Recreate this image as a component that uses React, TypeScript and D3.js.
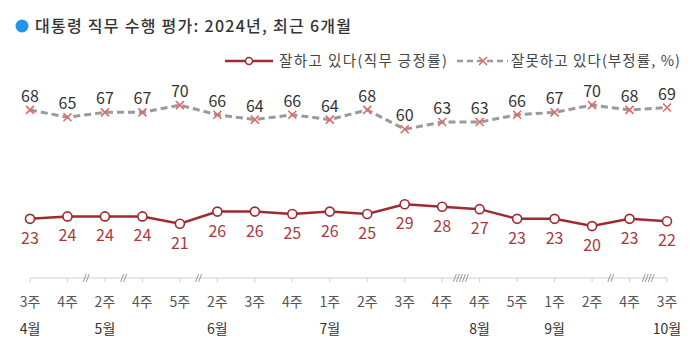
import * as d3 from 'd3';
import React, { useEffect, useRef } from 'react';

const weeks = ['3주', '4주', '2주', '4주', '5주', '2주', '3주', '4주', '1주', '2주', '3주', '4주', '4주', '5주', '1주', '2주', '4주', '3주'];
const months = ['4월', '', '5월', '', '', '6월', '', '', '7월', '', '', '', '8월', '', '9월', '', '', '10월'];
const approve = [23, 24, 24, 24, 21, 26, 26, 25, 26, 25, 29, 28, 27, 23, 23, 20, 23, 22];
const disapprove = [68, 65, 67, 67, 70, 66, 64, 66, 64, 68, 60, 63, 63, 66, 67, 70, 68, 69];
// axis breaks: gap after index, number of slashes
const breaks = [[1, 2], [2, 2], [4, 2], [11, 5], [15, 2], [16, 4]];

const FONT = '"Noto Sans CJK KR", "Noto Sans", sans-serif';
const RED = '#9e2b30';
const GRAY = '#9a9a9a';
const PINK = '#e06a6a';

const App = () => {
	const svgRef = useRef(null);

	useEffect(() => {
		const svg = d3.select(svgRef.current);
		svg.selectAll('*').remove();

		const idx = weeks.map((_, i) => i);
		const x = d3.scalePoint().domain(idx).range([30, 667]);
		const y = d3.scaleLinear().domain([0, 100]).range([274.5, 32.5]);
		const axisY = 278;

		// title
		svg.append('circle').attr('cx', 22).attr('cy', 26).attr('r', 6.5).attr('fill', '#1e96f0');
		svg.append('text')
			.attr('x', 35).attr('y', 32)
			.attr('font-family', FONT).attr('font-size', 16).attr('font-weight', 500)
			.attr('fill', '#333')
			.attr('textLength', 316).attr('lengthAdjust', 'spacing')
			.text('대통령 직무 수행 평가: 2024년, 최근 6개월');

		// legend
		const lg = svg.append('g').attr('font-family', FONT).attr('font-size', 14.5).attr('fill', '#444');
		lg.append('line').attr('x1', 225).attr('x2', 273).attr('y1', 61).attr('y2', 61)
			.attr('stroke', RED).attr('stroke-width', 2.5);
		lg.append('circle').attr('cx', 249).attr('cy', 61).attr('r', 3.5)
			.attr('fill', '#fff').attr('stroke', RED).attr('stroke-width', 1.5);
		lg.append('text').attr('x', 279).attr('y', 66)
			.attr('textLength', 168).attr('lengthAdjust', 'spacing')
			.text('잘하고 있다(직무 긍정률)');
		lg.append('line').attr('x1', 457).attr('x2', 508).attr('y1', 61).attr('y2', 61)
			.attr('stroke', GRAY).attr('stroke-width', 2.5).attr('stroke-dasharray', '6,4');
		lg.append('path').attr('d', 'M479,57L487,65M487,57L479,65').attr('stroke', PINK).attr('stroke-width', 1.6);
		lg.append('text').attr('x', 511).attr('y', 66)
			.attr('textLength', 169).attr('lengthAdjust', 'spacing')
			.text('잘못하고 있다(부정률, %)');

		// x axis
		const ax = svg.append('g');
		ax.append('line').attr('x1', x(0)).attr('x2', x(idx.length - 1)).attr('y1', axisY).attr('y2', axisY)
			.attr('stroke', '#cfcfcf').attr('stroke-width', 1);
		ax.selectAll('.tick').data(idx).join('line')
			.attr('x1', (d) => x(d)).attr('x2', (d) => x(d))
			.attr('y1', axisY).attr('y2', axisY + 4)
			.attr('stroke', '#cfcfcf');
		breaks.forEach(([i, n]) => {
			const cx = (x(i) + x(i + 1)) / 2;
			for (let k = 0; k < n; k++) {
				const sx = cx + (k - (n - 1) / 2) * 3;
				ax.append('line')
					.attr('x1', sx - 1.5).attr('x2', sx + 1.5)
					.attr('y1', axisY + 4).attr('y2', axisY - 4)
					.attr('stroke', '#999').attr('stroke-width', 1);
			}
		});
		ax.selectAll('.wk').data(idx).join('text')
			.attr('x', (d) => x(d)).attr('y', axisY + 29)
			.attr('text-anchor', 'middle')
			.attr('font-family', FONT).attr('font-size', 14).attr('fill', '#555')
			.text((d) => weeks[d]);
		ax.selectAll('.mo').data(idx.filter((i) => months[i])).join('text')
			.attr('x', (d) => x(d)).attr('y', axisY + 56)
			.attr('text-anchor', 'middle')
			.attr('font-family', FONT).attr('font-size', 14).attr('fill', '#333')
			.text((d) => months[d]);

		// disapprove line
		const line = d3.line().x((d, i) => x(i)).y((d) => y(d));
		svg.append('path').datum(disapprove).attr('d', line)
			.attr('fill', 'none').attr('stroke', GRAY).attr('stroke-width', 3)
			.attr('stroke-dasharray', '7,4');
		svg.selectAll('.xm').data(disapprove).join('path')
			.attr('d', (d, i) => {
				const cx = x(i), cy = y(d), s = 4;
				return `M${cx - s},${cy - s}L${cx + s},${cy + s}M${cx + s},${cy - s}L${cx - s},${cy + s}`;
			})
			.attr('stroke', PINK).attr('stroke-width', 1.6);
		svg.selectAll('.nl').data(disapprove).join('text')
			.attr('x', (d, i) => x(i)).attr('y', (d) => y(d) - 8)
			.attr('text-anchor', 'middle')
			.attr('font-family', FONT).attr('font-size', 16).attr('fill', '#333')
			.text((d) => d);

		// approve line
		svg.append('path').datum(approve).attr('d', line)
			.attr('fill', 'none').attr('stroke', RED).attr('stroke-width', 2.5);
		svg.selectAll('.pc').data(approve).join('circle')
			.attr('cx', (d, i) => x(i)).attr('cy', (d) => y(d)).attr('r', 4.5)
			.attr('fill', '#fff').attr('stroke', RED).attr('stroke-width', 1.6);
		svg.selectAll('.pl').data(approve).join('text')
			.attr('x', (d, i) => x(i)).attr('y', (d) => y(d) + 25)
			.attr('text-anchor', 'middle')
			.attr('font-family', FONT).attr('font-size', 16).attr('fill', '#a8383c')
			.text((d) => d);

		return () => {
			svg.selectAll('*').remove();
		};
	}, []);

	return (
		<svg ref={svgRef} width={698} height={360} style={{ position: 'absolute', left: 0, top: 0, background: '#fff' }} />
	);
};

export default App;
